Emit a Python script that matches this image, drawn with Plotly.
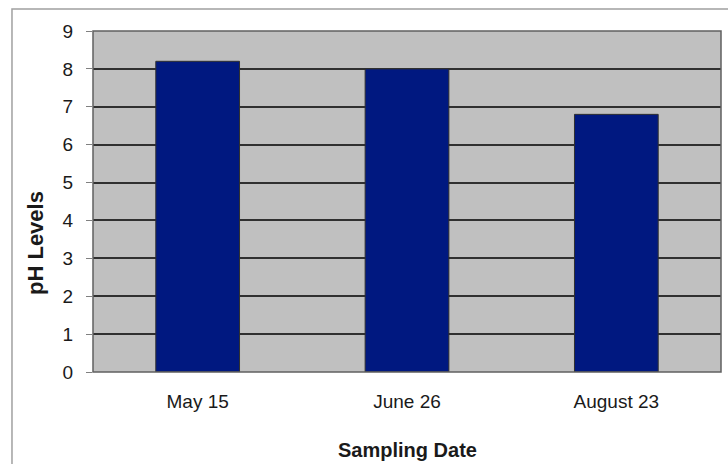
import plotly.graph_objects as go

categories = ["May 15", "June 26", "August 23"]
ph_values = [8.2, 8.0, 6.8]
y_ticks = [0, 1, 2, 3, 4, 5, 6, 7, 8, 9]

fig = go.Figure()
fig.add_trace(go.Bar(
    x=categories, y=ph_values,
    marker=dict(color="#001880", line=dict(color="#303030", width=1)),
    width=0.4,
))

font_family = "Liberation Sans, Arial, sans-serif"
fig.update_layout(
    width=728, height=464,
    margin=dict(l=93, r=7, t=31, b=92),
    paper_bgcolor="white",
    plot_bgcolor="#c0c0c0",
    showlegend=False,
    font=dict(family=font_family, size=19, color="#1a1a1a"),
    xaxis=dict(
        showgrid=False, ticks="", ticklabelstandoff=16, automargin=False,
        showline=False, zeroline=False,
    ),
    yaxis=dict(
        range=[0, 9], tickvals=y_ticks, ticks="outside", ticklen=6,
        tickcolor="#808080", ticklabelstandoff=9, automargin=False,
        showgrid=True, gridcolor="#303030", gridwidth=1.5,
        zeroline=False, showline=False,
    ),
    annotations=[
        dict(text="<b>pH Levels</b>", xref="paper", yref="paper",
             x=(35 - 93) / 628, y=(372 - 243) / 341, showarrow=False,
             textangle=-90, font=dict(size=22), xanchor="center", yanchor="middle"),
        dict(text="<b>Sampling Date</b>", xref="paper", yref="paper",
             x=0.5, y=(372 - 450) / 341, showarrow=False, borderpad=0,
             font=dict(size=20), xanchor="center", yanchor="middle"),
    ],
    shapes=[
        dict(type="rect", xref="paper", yref="paper", x0=0, x1=1, y0=0, y1=1,
             line=dict(color="#606060", width=1.5), layer="above"),
        dict(type="rect", xref="paper", yref="paper", x0=-0.129, x1=1.2, y0=-0.5, y1=1.0645,
             line=dict(color="#a0a0a0", width=1.5), layer="below"),
    ],
)

fig.write_html(
    "out.html",
    config={"displayModeBar": False},
    post_script="document.body.style.margin='0';document.body.style.overflow='hidden';",
)
